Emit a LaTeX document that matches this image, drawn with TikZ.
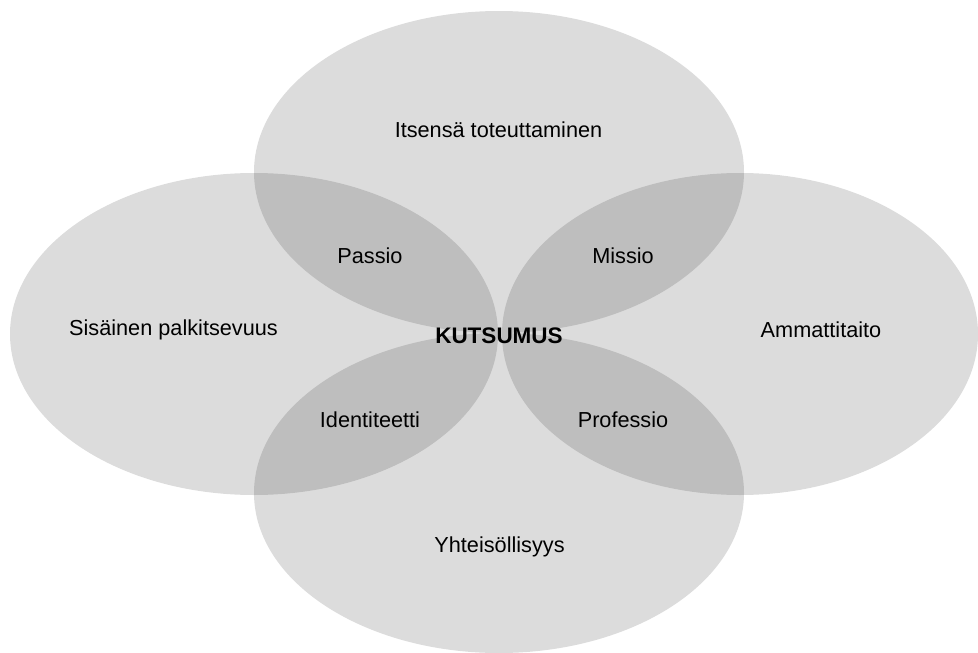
\documentclass[tikz,border=0pt]{standalone}
\usepackage{fontspec}
\setmainfont{Liberation Sans}
\begin{document}
\begin{tikzpicture}[x=1pt,y=-1pt,
  petal/.style={fill=black,fill opacity=0.137,draw=none},
  lbl/.style={font=\fontsize{21.7}{24}\selectfont,text=black,inner sep=0pt}]
\useasboundingbox (0,0) rectangle (978,653);
\fill[petal] (499,172) ellipse [x radius=245,y radius=161];
\fill[petal] (499,493) ellipse [x radius=245,y radius=160];
\fill[petal] (254,334) ellipse [x radius=244,y radius=161];
\fill[petal] (740,334) ellipse [x radius=238,y radius=161];
\node[lbl] (top) at (498.5,130) {Itsensä toteuttaminen};
\node[lbl] (left) at (173.5,330) {Sisäinen palkitsevuus};
\node[lbl] (right) at (821,330) {Ammattitaito};
\node[lbl] (bottom) at (499.5,547) {Yhteisöllisyys};
\node[lbl] (passio) at (370,256) {Passio};
\node[lbl] (missio) at (623,256) {Missio};
\node[lbl] (ident) at (370,420) {Identiteetti};
\node[lbl] (prof) at (623,420) {Professio};
\node[lbl,font=\fontsize{22.5}{26}\selectfont\bfseries] (kuts) at (499,336) {KUTSUMUS};
\end{tikzpicture}
\end{document}
